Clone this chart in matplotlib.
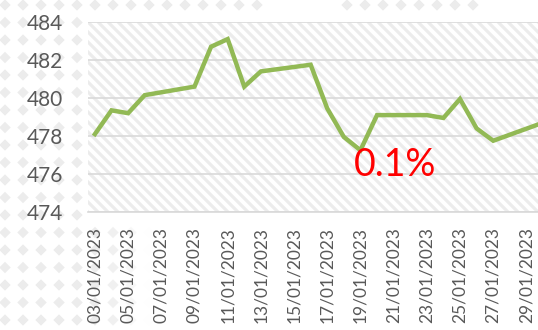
import numpy as np
import pandas as pd
import matplotlib
matplotlib.use("Agg")
import matplotlib.pyplot as plt
import matplotlib.dates as mdates
from matplotlib.collections import LineCollection

plt.rcParams["font.family"] = ["Lato", "DejaVu Sans"]

# Dados

datas = ["2023-01-03", "2023-01-04", "2023-01-05", "2023-01-06", "2023-01-09",
         "2023-01-10", "2023-01-11", "2023-01-12", "2023-01-13", "2023-01-16",
         "2023-01-17", "2023-01-18", "2023-01-19", "2023-01-20", "2023-01-23",
         "2023-01-24", "2023-01-25", "2023-01-26", "2023-01-27", "2023-01-30"]
valores = [478.1, 479.35, 479.2, 480.15, 480.6,
           482.7, 483.1, 480.6, 481.4, 481.75,
           479.45, 477.95, 477.25, 479.1, 479.1,
           478.95, 479.95, 478.4, 477.75, 478.7]
rotulo = "0.1%"
rotulo_data = "2023-01-18 14:00"
rotulo_valor = 476.45

datas = pd.to_datetime(datas)

fig = plt.figure(figsize=(5.38, 3.30), dpi=100)

# Fundo com losangos

fundo = fig.add_axes([0, 0, 1, 1], zorder=-5)
fundo.set_xlim(0, 538)
fundo.set_ylim(330, 0)
fundo.axis("off")

gx, gy = np.meshgrid(np.arange(5, 538, 18), np.arange(5, 330, 17.5))
gx = gx.ravel()
gy = gy.ravel()
alfa = np.zeros(len(gx))
alfa[gx < 85] = 1.0
baixo = (gy > 215) & (gx < 150)
alfa[baixo] = np.clip((150 - gx[baixo]) / 50, 0, 1)
topo = (gy < 12) & ((gx < 265) | ((gx > 335) & (gx < 480)))
alfa[topo] = 1.0
cores = np.zeros((len(gx), 4))
cores[:, :3] = 0.925
cores[:, 3] = alfa
fundo.scatter(gx, gy, s=34, marker="D", c=cores, linewidths=0)

# Gráfico

ax = fig.add_axes([88 / 538, 1 - 212 / 330, 450 / 538, 190 / 330])

# hachura diagonal da área de plotagem
largura, altura = 450, 190
segs = []
for c in np.arange(-altura, largura + 10, 10):
    segs.append([(c / largura, 1), ((c + altura) / largura, 0)])
hach = LineCollection(segs, colors="#ececec", linewidths=2.3,
                      transform=ax.transAxes, zorder=0)
ax.add_collection(hach)
for px in np.arange(20, largura, 86.5):
    ax.axvline(px / largura, color="#eeeeee", lw=0.8, zorder=0.5)

ax.plot(datas, valores, color="#92B955", lw=3.2, solid_joinstyle="miter",
        zorder=3)

ax.text(pd.Timestamp(rotulo_data), rotulo_valor, rotulo, color="red",
        fontsize=27, ha="left", va="center", zorder=4)

inicio = pd.Timestamp("2023-01-03")
ax.set_xlim(inicio - pd.Timedelta(hours=10), inicio + pd.Timedelta(days=26.7))
ax.set_ylim(474, 484)
ax.set_yticks(np.arange(474, 485, 2))
ax.set_xticks(pd.date_range("2023-01-03", "2023-01-29", freq="2D"))
ax.xaxis.set_major_formatter(mdates.DateFormatter("%d/%m/%Y"))

ax.grid(axis="y", color="#d9d9d9", lw=1.2, zorder=1)
ax.set_axisbelow(True)
for lado in ["top", "right", "left"]:
    ax.spines[lado].set_visible(False)
ax.spines["bottom"].set_color("#d9d9d9")
ax.spines["bottom"].set_linewidth(1.2)

ax.tick_params(axis="y", length=0, pad=18, labelsize=15, labelcolor="#595959")
ax.tick_params(axis="x", length=0, pad=11, labelsize=12.5, labelcolor="#595959",
               labelrotation=90)
for t in ax.get_xticklabels():
    t.set_va("top")
    t.set_ha("center")

ax.patch.set_facecolor("white")

plt.savefig("out.png", dpi=100)
